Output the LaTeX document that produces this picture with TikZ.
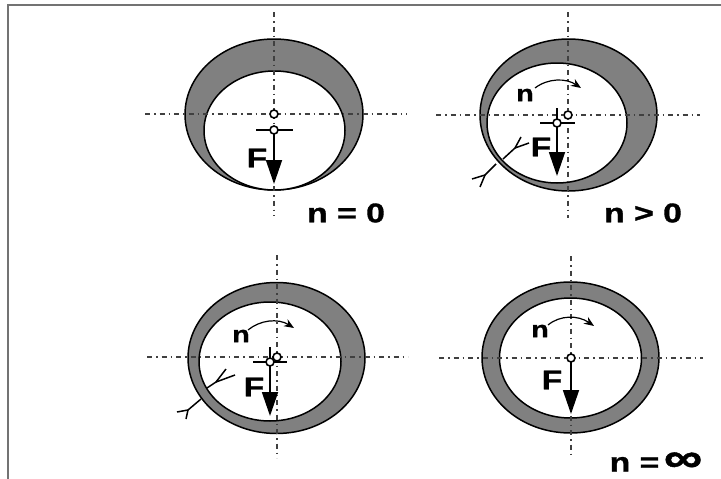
\documentclass[tikz,border=0pt]{standalone}
\usepackage{fontspec}
\usepackage{graphicx}
\newfontfamily\fett[FakeStretch=1.25,FakeBold=1.2]{Liberation Sans}
\usetikzlibrary{arrows.meta,calc}
\tikzset{
  lager/.style={draw=black,line width=1.5pt,fill=black!50},
  zapfen/.style={draw=black,line width=1.5pt,fill=white},
  achse/.style={line width=1.3pt,dash pattern=on 5pt off 4pt on 1.5pt off 4pt,black!75},
  kraft/.style={line width=1.8pt,-{Triangle[length=24pt,width=16pt]}},
  punkt/.style={circle,draw=black,line width=1.6pt,fill=white,inner sep=0pt,minimum size=8pt},
  strich/.style={line width=1.1pt},
  drehung/.style={line width=1.2pt,-{Stealth[length=10pt,width=8pt]}},
  spalt/.style={line width=1.5pt},
  txt/.style={font=\fontsize{27}{27}\fett\bfseries},
  txtn/.style={font=\fontsize{23}{23}\fett\bfseries},
}
\begin{document}
\begin{tikzpicture}[x=1pt,y=-1pt]
\useasboundingbox (0,0) rectangle (721,479);
\draw[black!55,line width=1.6pt] (8,479)--(8,5)--(721,5);
% n = 0
\draw[lager] (274,114.5) ellipse (89 and 75.5);
\draw[zapfen] (274.5,130.5) ellipse (70.5 and 59.5);
\draw[achse] (145,114)--(407,114);
\draw[achse] (274,12)--(274,216);
\draw[strich] (256,130)--(293,130);
\draw[kraft] (274,130)--(274,184);
\node[punkt] (a1) at (274,114){};
\node[punkt] (a2) at (274,130){};
\node[txt] (f1) at (257,158){F};
\node[txt] (l1) at (346,213){n = 0};
% n > 0
\draw[lager] (568.5,115) ellipse (88.5 and 76);
\draw[zapfen] (557,123) ellipse (70 and 60);
\draw[achse] (436,115)--(700,115);
\draw[achse] (568,12)--(568,218);
\draw[strich] (540,123)--(575,123);
\draw[strich] (557,108)--(557,123);
\draw[kraft] (557,123)--(557,176);
\node[punkt] (b1) at (568,115){};
\node[punkt] (b2) at (557,123){};
\node[txt] (f2) at (541,147){F};
\node[txtn] (n2) at (525,95){n};
\node[txt] (l2) at (643,213){n > 0};
\draw[drehung] (535,88) .. controls (548,78) and (566,78) .. (581,88);
\draw[spalt] (503,159)--(515,148)--(521,137);
\draw[spalt] (515,148)--(529,143);
\draw[spalt] (496,164)--(485,175)--(472,179);
\draw[spalt] (485,175)--(480,187);
% n mittel
\draw[lager] (276.5,358) ellipse (88.5 and 75.5);
\draw[zapfen] (270,361.5) ellipse (71 and 59.5);
\draw[achse] (147,357)--(408,357);
\draw[achse] (277,255)--(277,458);
\draw[strich] (253,362)--(287,362);
\draw[strich] (270,347)--(270,362);
\draw[kraft] (270,362)--(270,416);
\node[punkt] (c1) at (277,357){};
\node[punkt] (c2) at (270,362){};
\node[txt] (f3) at (254,387){F};
\node[txtn] (n3) at (241,336){n};
\draw[drehung] (248,330) .. controls (260,320) and (278,318) .. (294,328);
\draw[spalt] (207,388)--(216,382)--(226,369);
\draw[spalt] (216,382)--(235,375);
\draw[spalt] (201,399)--(188,410)--(177,412);
\draw[spalt] (188,410)--(186,419);
% n = unendlich
\draw[lager] (570.5,357.5) ellipse (88.5 and 75.5);
\draw[zapfen] (570.5,358) ellipse (71 and 60);
\draw[achse] (439,358)--(703,358);
\draw[achse] (571,256)--(571,458);
\draw[kraft] (571,358)--(571,414);
\node[punkt] (d1) at (571,358){};
\node[txt] (f4) at (552,380){F};
\node[txtn] (n4) at (540,331){n};
\draw[drehung] (548,325) .. controls (560,315) and (578,315) .. (594,326);
\node[txt] (l4) at (656,462){n =\,\scalebox{1.6}[1.5]{∞}};
\end{tikzpicture}
\end{document}
